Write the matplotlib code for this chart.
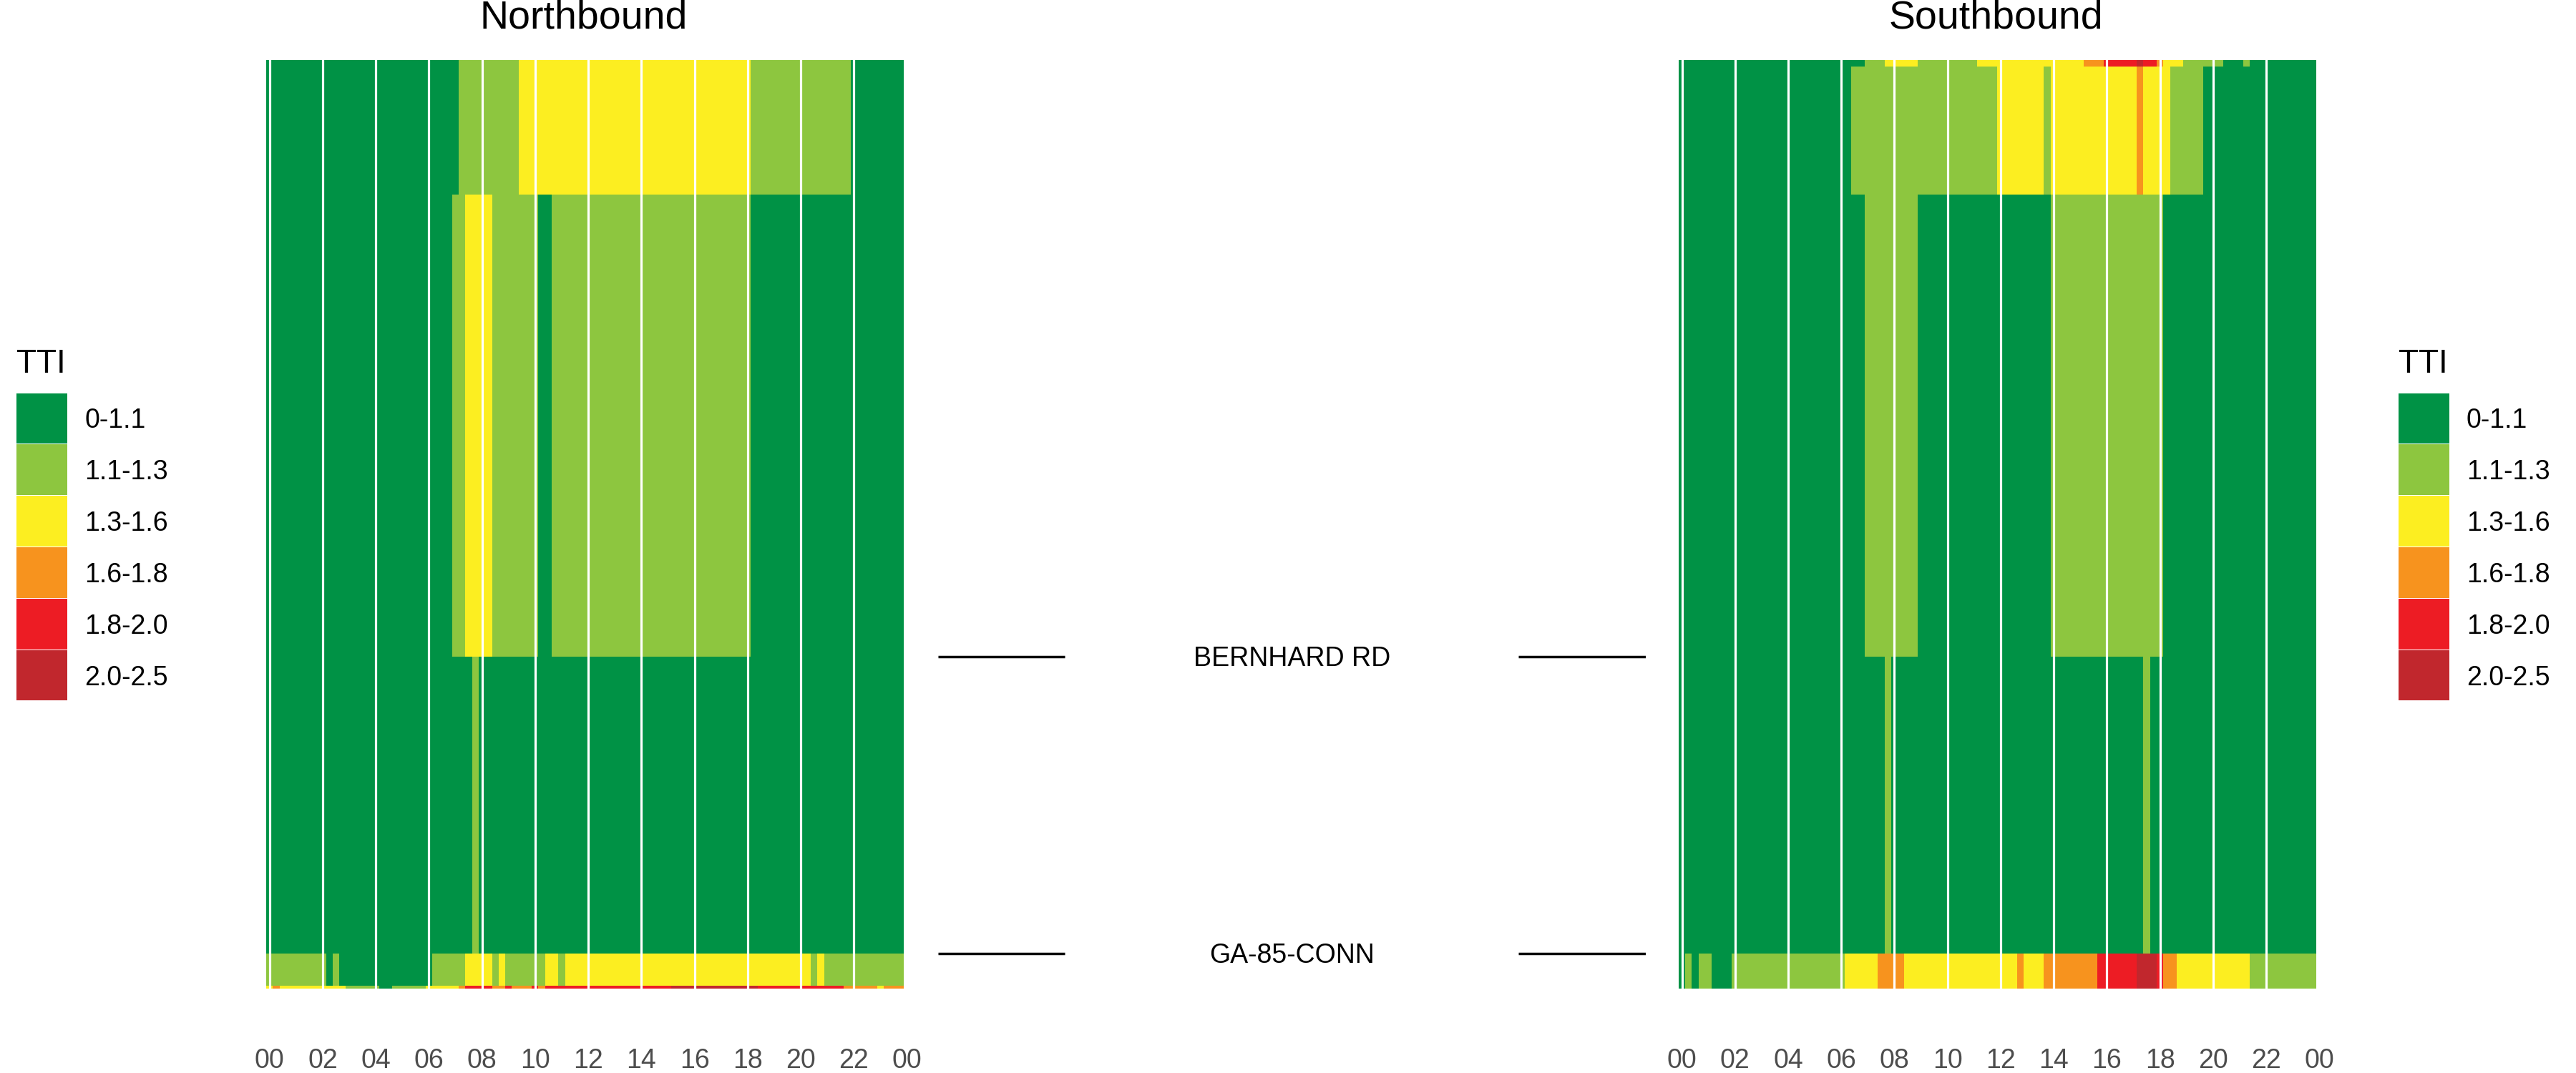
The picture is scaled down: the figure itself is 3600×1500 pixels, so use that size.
import numpy as np
import matplotlib
matplotlib.use("Agg")
import matplotlib.pyplot as plt
import matplotlib.transforms as mtransforms
from matplotlib.colors import ListedColormap, BoundaryNorm

plt.rcParams['font.family'] = ['Liberation Sans', 'DejaVu Sans']

# TTI classes and colours
tti_labels = ["0-1.1", "1.1-1.3", "1.3-1.6", "1.6-1.8", "1.8-2.0", "2.0-2.5"]
tti_colors = ["#009245", "#8DC63F", "#FCEE21", "#F7931E", "#ED1C24", "#C1272D"]

# 15-minute bins over the day; each string group = 2 hours (8 bins)
# segment edges in miles, bottom -> top
nb_edges = [0.0, 0.008, 0.098, 0.928, 2.220, 2.596]
nb_rows = [  # bottom -> top
    "23222222 22221111 10011111 22222344 44334333 43444444 44444444 44444555 55555555 55444444 44444443 33332333",
    "11111111 10100000 00000000 01111122 22121111 11221222 22222222 22222222 22222222 22222222 22121111 11111111",
    "00000000 00000000 00000000 00000001 00000000 00000000 00000000 00000000 00000000 00000000 00000000 00000000",
    "00000000 00000000 00000000 00001122 22111111 10011111 11111111 11111111 11111111 10000000 00000000 00000000",
    "00000000 00000000 00000000 00000111 11111122 22222222 22222222 22222222 22222222 21111111 11111111 00000000",
]

sb_edges = [0.0, 0.098, 0.928, 2.220, 2.578, 2.596]
sb_rows = [  # bottom -> top
    "01011000 11111111 11111111 12222233 33222222 22222222 22232223 33333334 44444555 43322222 22222211 11111111",
    "00000000 00000000 00000000 00000001 00000000 00000000 00000000 00000000 00000010 00000000 00000000 00000000",
    "00000000 00000000 00000000 00001111 11110000 00000000 00000000 11111111 11111111 10000000 00000000 00000000",
    "00000000 00000000 00000000 00111111 11111111 11111111 22222221 22222222 22222322 22111110 00000000 00000000",
    "00000000 00000000 00000000 00001112 22221111 11111222 22222222 22222333 44444544 32221111 11000100 00000000",
]

roads = ["BERNHARD RD", "GA-85-CONN"]
road_miles = [0.928, 0.098]

hour_ticks = list(range(0, 25, 2))
hour_labels = ["%02d" % (h % 24) for h in hour_ticks]

W, H = 3600, 1500
cmap = ListedColormap(tti_colors)
norm = BoundaryNorm(np.arange(-0.5, 6.5, 1), cmap.N)


def to_grid(rows):
    return np.array([[int(c) for c in r.replace(" ", "")] for r in rows])


def heat_panel(left_px, title, rows, edges):
    ax = fig.add_axes([left_px / W, 118 / H, 895.5 / W, 1298 / H])
    grid = to_grid(rows)
    xedges = np.arange(grid.shape[1] + 1) * 0.25 - 0.125
    ax.pcolormesh(xedges, edges, grid, cmap=cmap, norm=norm,
                  shading="flat", edgecolors="none", antialiased=False)
    for h in hour_ticks:
        ax.axvline(h, color="white", lw=2.3, zorder=3)
    ax.set_xlim(-0.125, 24.0)
    ax.set_ylim(0, edges[-1])
    ax.set_xticks(hour_ticks)
    ax.set_xticklabels(hour_labels, fontsize=27, color="#4D4D4D")
    ax.tick_params(axis="x", length=0, pad=60)
    ax.set_yticks([])
    for s in ax.spines.values():
        s.set_visible(False)
    cx = (left_px + 895.5 / 2 - 4) / W
    fig.text(cx, 1 - 40 / H, title, fontsize=40, ha="center", va="baseline")
    return ax


def legend_panel(left_px):
    lax = fig.add_axes([left_px / W, (H - 980) / H, 71 / W, 431 / H])
    lax.barh(range(6), 1, height=0.985, left=0, color=tti_colors)
    lax.set_ylim(5.5, -0.5)
    lax.set_xlim(0, 1)
    lax.axis("off")
    for i, lab in enumerate(tti_labels):
        lax.text(95 / 71, i + 0.187, lab, fontsize=27, ha="left", va="baseline")
    lax.text(0, -0.5 - 28 / 71.8, "TTI", fontsize=33, ha="left", va="baseline")


fig = plt.figure(figsize=(36, 15), dpi=100)

heat_panel(372, "Northbound", nb_rows, nb_edges)
heat_panel(2345.9, "Southbound", sb_rows, sb_edges)

# middle panel with the road names
mid = fig.add_axes([1311 / W, 118 / H, 989 / W, 1298 / H])
mid.set_xlim(0, 1)
mid.set_ylim(0, nb_edges[-1])
mid.axis("off")
shift = mtransforms.offset_copy(mid.transData, fig=fig, y=-13.4, units="dots")
for name, mi in zip(roads, road_miles):
    mid.hlines(mi, 0, 177 / 989, color="black", lw=2.5)
    mid.hlines(mi, 811 / 989, 1, color="black", lw=2.5)
    mid.text(0.5, mi, name, fontsize=27, ha="center", va="baseline", transform=shift)

legend_panel(23)
legend_panel(3352)

fig.savefig("out.png", dpi=100)
